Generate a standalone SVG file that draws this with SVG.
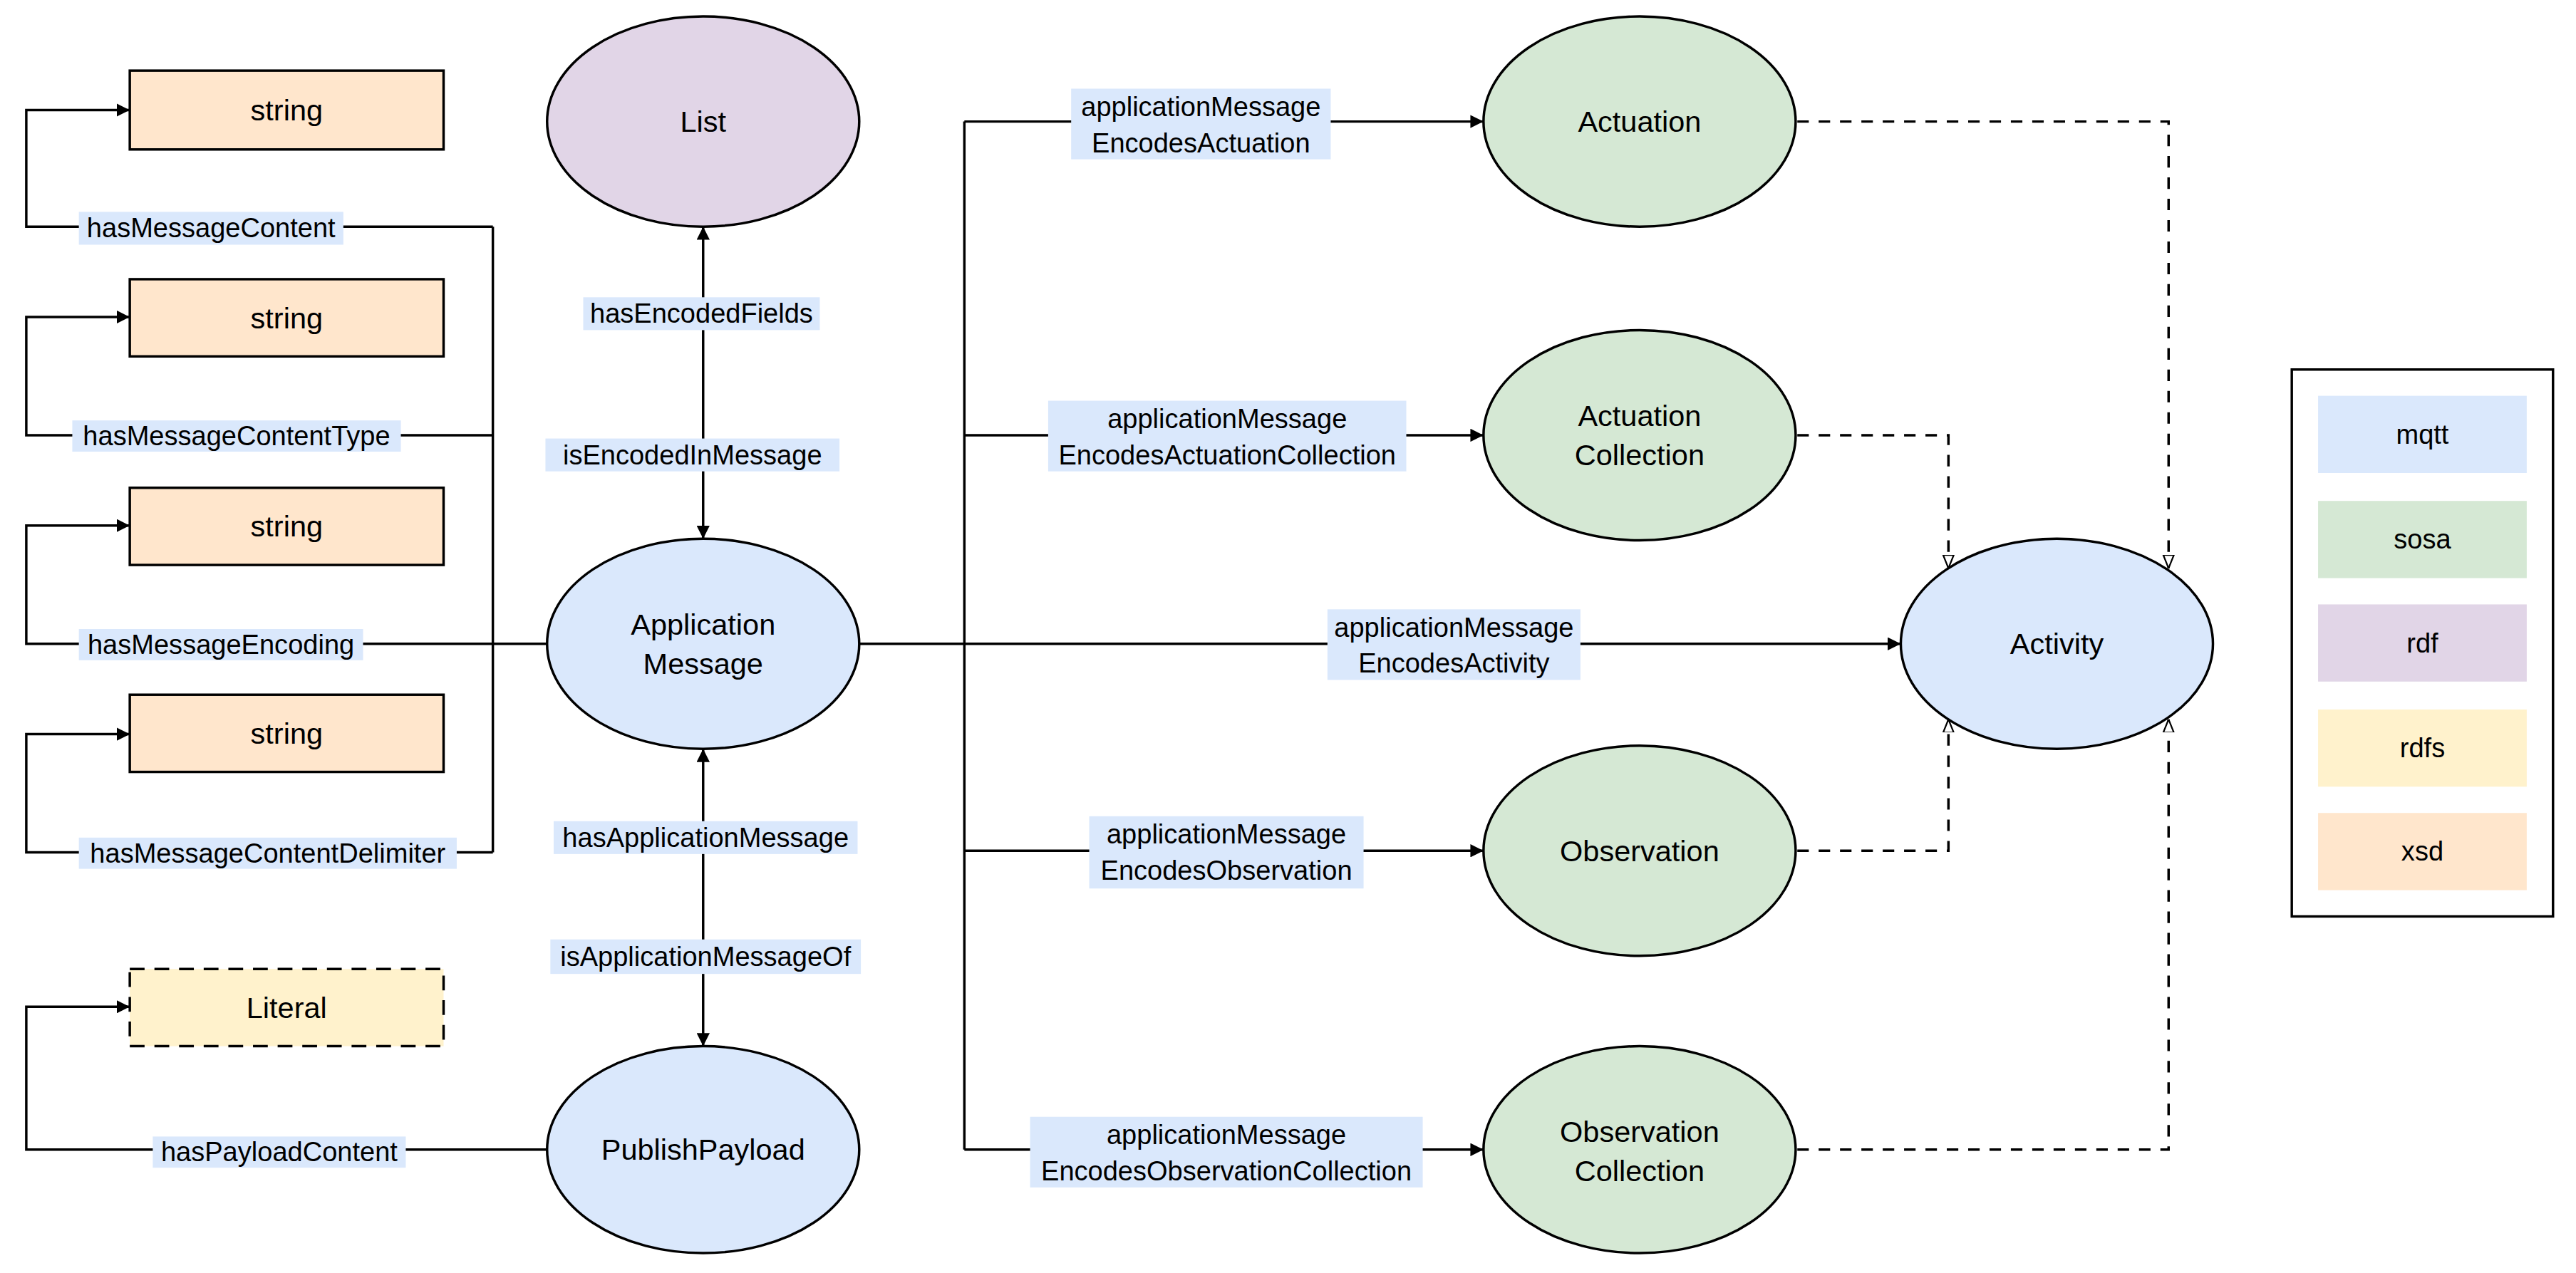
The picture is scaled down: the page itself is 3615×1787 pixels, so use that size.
<svg xmlns="http://www.w3.org/2000/svg" width="3615" height="1787" viewBox="0 0 3615 1787">
<defs>
<style>
.n{stroke:#000;stroke-width:1.5}
.l{fill:none;stroke:#000;stroke-width:1.5}
.d{fill:none;stroke:#000;stroke-width:1.5;stroke-dasharray:7 6}
.t{font-family:"Liberation Sans",Arial,sans-serif;font-size:18px;text-anchor:middle;dominant-baseline:central;fill:#000}
.lt{font-family:"Liberation Sans",Arial,sans-serif;font-size:16.5px;text-anchor:middle;dominant-baseline:central;fill:#000}
.bg{fill:#dae8fc}
.mqtt{fill:#dae8fc}.sosa{fill:#d5e8d4}.rdf{fill:#e1d5e7}.rdfs{fill:#fff2cc}.xsd{fill:#ffe6cc}
</style>
<marker id="a" viewBox="0 0 10 10" refX="10" refY="5" markerWidth="8" markerHeight="8" markerUnits="userSpaceOnUse" orient="auto-start-reverse"><path d="M0,0L10,5L0,10z" fill="#000"/></marker>
<marker id="h" viewBox="0 0 10 10" refX="10" refY="5" markerWidth="8" markerHeight="8" markerUnits="userSpaceOnUse" orient="auto"><path d="M0,1L10,5L0,9z" fill="#fff" stroke="#000" stroke-width="1.2"/></marker>
</defs>
<rect width="3615" height="1787" fill="#fff"/>
<g transform="scale(2.3055)">
<g id="connectors">
<path class="l" d="M300,138H16V67H79" marker-end="url(#a)" transform="translate(0,0)"/>
<path class="l" d="M300,138V519"/>
<path class="l" d="M300,265H16V193H79" marker-end="url(#a)"/>
<path class="l" d="M333,392H16V320H79" marker-end="url(#a)"/>
<path class="l" d="M300,519H16V447H79" marker-end="url(#a)"/>
<path class="l" d="M333,700H16V613H79" marker-end="url(#a)"/>
<path class="l" d="M428,138V328" marker-start="url(#a)" marker-end="url(#a)"/>
<path class="l" d="M428,456V637" marker-start="url(#a)" marker-end="url(#a)"/>
<path class="l" d="M523,392H1157" marker-end="url(#a)"/>
<path class="l" d="M587,74V700"/>
<path class="l" d="M587,74H903" marker-end="url(#a)"/>
<path class="l" d="M587,265H903" marker-end="url(#a)"/>
<path class="l" d="M587,518H903" marker-end="url(#a)"/>
<path class="l" d="M587,700H903" marker-end="url(#a)"/>
<path class="d" d="M1094,74H1320V346" marker-end="url(#h)"/>
<path class="d" d="M1094,265H1186V346" marker-end="url(#h)"/>
<path class="d" d="M1094,518H1186V438" marker-end="url(#h)"/>
<path class="d" d="M1094,700H1320V438" marker-end="url(#h)"/>
<rect class="bg" x="48" y="129" width="161" height="20"/><text class="lt" x="128.5" y="139">hasMessageContent</text>
<rect class="bg" x="44" y="256" width="200" height="19"/><text class="lt" x="144" y="265.5">hasMessageContentType</text>
<rect class="bg" x="48" y="383" width="173" height="19"/><text class="lt" x="134.5" y="392.5">hasMessageEncoding</text>
<rect class="bg" x="48" y="510" width="230" height="19"/><text class="lt" x="163" y="519.5">hasMessageContentDelimiter</text>
<rect class="bg" x="93" y="692" width="154" height="19"/><text class="lt" x="170" y="701.5">hasPayloadContent</text>
<rect class="bg" x="355" y="181" width="144" height="20"/><text class="lt" x="427" y="191">hasEncodedFields</text>
<rect class="bg" x="332" y="267" width="179" height="20"/><text class="lt" x="421.5" y="277">isEncodedInMessage</text>
<rect class="bg" x="337" y="500" width="185" height="20"/><text class="lt" x="429.5" y="510">hasApplicationMessage</text>
<rect class="bg" x="335" y="572" width="189" height="21"/><text class="lt" x="429.5" y="582.5">isApplicationMessageOf</text>
<rect class="bg" x="652" y="54" width="158" height="43"/><text class="lt" x="731" y="65">applicationMessage</text><text class="lt" x="731" y="87">EncodesActuation</text>
<rect class="bg" x="638" y="244" width="218" height="43"/><text class="lt" x="747" y="255">applicationMessage</text><text class="lt" x="747" y="277">EncodesActuationCollection</text>
<rect class="bg" x="808" y="371" width="154" height="43"/><text class="lt" x="885" y="382">applicationMessage</text><text class="lt" x="885" y="404">EncodesActivity</text>
<rect class="bg" x="663" y="497" width="167" height="44"/><text class="lt" x="746.5" y="508">applicationMessage</text><text class="lt" x="746.5" y="530">EncodesObservation</text>
<rect class="bg" x="627" y="680" width="239" height="43"/><text class="lt" x="746.5" y="691">applicationMessage</text><text class="lt" x="746.5" y="713">EncodesObservationCollection</text>
</g>
<g id="s1"><rect class="n xsd" x="79" y="43" width="191" height="48"/><text class="t" x="174.5" y="67">string</text></g>
<g id="s2"><rect class="n xsd" x="79" y="170" width="191" height="47"/><text class="t" x="174.5" y="193.5">string</text></g>
<g id="s3"><rect class="n xsd" x="79" y="297" width="191" height="47"/><text class="t" x="174.5" y="320.5">string</text></g>
<g id="s4"><rect class="n xsd" x="79" y="423" width="191" height="47"/><text class="t" x="174.5" y="446.5">string</text></g>
<g id="literal"><rect class="n rdfs" x="79" y="590" width="191" height="47" stroke-dasharray="9 6"/><text class="t" x="174.5" y="613.5">Literal</text></g>
<g id="list"><ellipse class="n rdf" cx="428" cy="74" rx="95" ry="64"/><text class="t" x="428" y="74">List</text></g>
<g id="appmsg"><ellipse class="n mqtt" cx="428" cy="392" rx="95" ry="64"/><text class="t" x="428" y="380">Application</text><text class="t" x="428" y="404">Message</text></g>
<g id="payload"><ellipse class="n mqtt" cx="428" cy="700" rx="95" ry="63"/><text class="t" x="428" y="700">PublishPayload</text></g>
<g id="actuation"><ellipse class="n sosa" cx="998" cy="74" rx="95" ry="64"/><text class="t" x="998" y="74">Actuation</text></g>
<g id="actcoll"><ellipse class="n sosa" cx="998" cy="265" rx="95" ry="64"/><text class="t" x="998" y="253">Actuation</text><text class="t" x="998" y="277">Collection</text></g>
<g id="activity"><ellipse class="n mqtt" cx="1252" cy="392" rx="95" ry="64"/><text class="t" x="1252" y="392">Activity</text></g>
<g id="obs"><ellipse class="n sosa" cx="998" cy="518" rx="95" ry="64"/><text class="t" x="998" y="518">Observation</text></g>
<g id="obscoll"><ellipse class="n sosa" cx="998" cy="700" rx="95" ry="63"/><text class="t" x="998" y="689">Observation</text><text class="t" x="998" y="713">Collection</text></g>
<g id="legend">
<rect x="1395" y="225" width="159" height="333" fill="#fff" stroke="#000" stroke-width="1.5"/>
<rect class="mqtt" x="1411" y="241" width="127" height="47"/><text class="lt" x="1474.5" y="264.5">mqtt</text>
<rect class="sosa" x="1411" y="305" width="127" height="47"/><text class="lt" x="1474.5" y="328.5">sosa</text>
<rect class="rdf" x="1411" y="368" width="127" height="47"/><text class="lt" x="1474.5" y="391.5">rdf</text>
<rect class="rdfs" x="1411" y="432" width="127" height="47"/><text class="lt" x="1474.5" y="455.5">rdfs</text>
<rect class="xsd" x="1411" y="495" width="127" height="47"/><text class="lt" x="1474.5" y="518.5">xsd</text>
</g>
</g>
</svg>
